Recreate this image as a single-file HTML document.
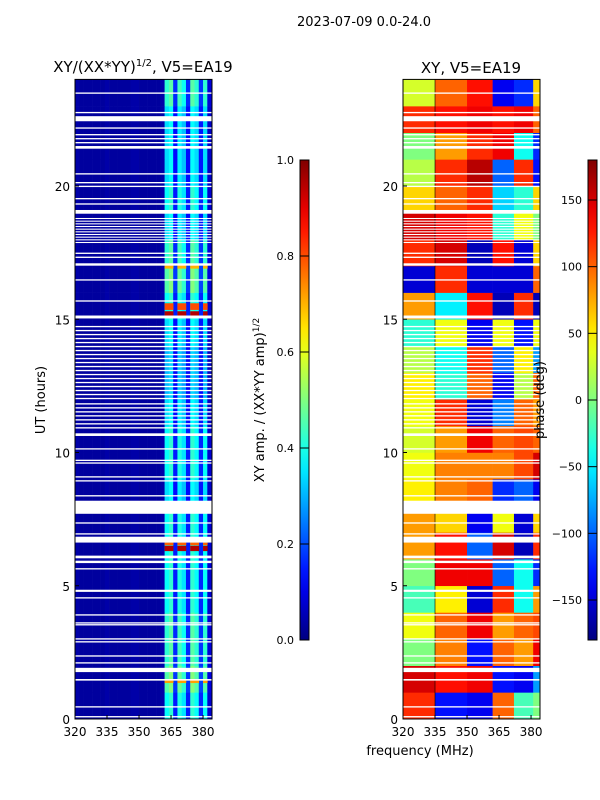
<!DOCTYPE html>
<html><head><meta charset="utf-8">
<style>
html,body{margin:0;padding:0;background:#fff;}
svg{display:block;font-family:"DejaVu Sans","Liberation Sans",sans-serif;}
</style></head>
<body>
<svg id="fig" width="600" height="800" viewBox="0 0 600 800" xmlns="http://www.w3.org/2000/svg">
<rect width="600" height="800" fill="#fff"/>
<text x="364" y="26" font-size="13" text-anchor="middle">2023-07-09 0.0-24.0</text>
<text x="143" y="72" font-size="15" text-anchor="middle">XY/(XX*YY)<tspan font-size="10" dy="-6">1/2</tspan><tspan dy="6">, V5=EA19</tspan></text>
<text x="471" y="73" font-size="15" text-anchor="middle">XY, V5=EA19</text>
<g id="left"></g>
<g id="right"></g>
<g id="axes"></g>
<text x="45" y="400" font-size="13" text-anchor="middle" transform="rotate(-90 45 400)">UT (hours)</text>
<text x="420" y="755" font-size="13" text-anchor="middle">frequency (MHz)</text>
<text x="264" y="400" font-size="13" text-anchor="middle" transform="rotate(-90 264 400)">XY amp. / (XX*YY amp)<tspan font-size="9" dy="-5">1/2</tspan></text>
<text x="544" y="400" font-size="13" text-anchor="middle" transform="rotate(-90 544 400)">phase (deg)</text>
</svg>
<script>
// ---------- data ----------
const freqTicks = [320, 335, 350, 365, 380];
const utTicks = [0, 5, 10, 15, 20];
const ampTicks = [0.0, 0.2, 0.4, 0.6, 0.8, 1.0];
const phaseTicks = [-150, -100, -50, 0, 50, 100, 150];
// amplitude per 2-MHz channel bin (320..384)
const ampFreq = [0.04,0.03,0.03,0.03,0.03,0.03,0.03,0.04,0.03,0.03,0.03,0.03,0.03,0.04,0.04,0.03,0.03,0.03,0.03,0.03,0.04,0.38,0.42,0.15,0.4,0.35,0.15,0.42,0.38,0.16,0.38,0.08];
// per-hour brightness scale, UT 0..23
const ampHour = [1.0,1.2,1.1,1.1,1.0,1.0,1.0,1.0,0.9,1.0,1.0,0.9,0.8,0.8,0.9,1.0,1.2,1.1,0.9,1.0,0.9,0.9,0.9,1.1];
// hot spots [utStart, utEnd, amplitude]
const hotStart = [15.1, 15.35, 6.3, 6.52, 1.35, 16.9];
const hotEnd = [15.3, 15.6, 6.5, 6.62, 1.5, 17.05];
const hotAmp = [0.95, 0.8, 0.95, 0.78, 0.72, 0.7];
// phase (deg) per hour (UT 0..23) x 6 frequency regions
const phaseEdges = [320, 335, 350, 362, 372, 381, 384];
const phaseHour = [
 [120,-130,-140,100,-20,0],
 [150,130,140,-130,-140,-80],
 [0,90,-130,100,80,140],
 [40,100,140,80,100,110],
 [-20,50,-150,120,-40,80],
 [0,140,140,-100,-40,-120],
 [80,130,-100,150,-160,120],
 [80,60,-140,40,-150,60],
 [50,90,100,-120,-100,-140],
 [40,90,90,90,110,150],
 [30,80,140,100,110,100],
 [40,120,-150,-90,100,80],
 [50,-30,100,-140,20,100],
 [20,-40,120,-100,50,-80],
 [-30,40,-140,40,-130,40],
 [80,-50,130,-160,120,-160],
 [-150,120,-150,-150,-150,100],
 [120,150,-160,130,-150,60],
 [150,140,130,-30,40,0],
 [60,100,120,-60,-30,60],
 [20,120,160,-100,120,-130],
 [0,80,120,140,-40,-120],
 [120,130,140,130,140,100],
 [30,100,130,-140,-120,60]
];
// flagged (blank) intervals: start UT, end UT
const flagStart = [0.06,0.43,1.44,1.76,2.08,2.34,2.87,2.98,3.51,3.58,3.88,4.52,4.77,5.61,5.85,6.03,6.62,6.92,7.33,7.7,8.35,8.91,9.06,9.58,9.68,10.11,10.62,10.9,11.05,11.2,11.35,11.5,11.65,11.8,12.0,12.15,12.3,12.45,12.6,12.75,12.9,13.05,13.2,13.35,13.5,13.65,13.8,13.95,14.1,14.25,14.4,14.55,14.7,15.03,15.66,16.45,17.01,17.3,17.45,17.86,17.96,18.06,18.16,18.26,18.36,18.46,18.56,18.66,18.76,18.96,19.3,19.5,19.96,20.1,20.43,21.4,21.6,21.75,21.9,22.15,22.43,22.73,23.46];
const flagEnd = [0.11,0.48,1.5,1.92,2.13,2.39,2.92,3.03,3.56,3.63,3.93,4.57,4.85,5.66,5.94,6.13,6.84,6.97,7.38,8.19,8.4,8.96,9.11,9.63,9.73,10.16,10.72,10.95,11.1,11.25,11.4,11.55,11.7,11.85,12.05,12.2,12.35,12.5,12.65,12.8,12.95,13.1,13.25,13.4,13.55,13.7,13.85,14.0,14.15,14.3,14.45,14.6,14.75,15.14,15.71,16.5,17.1,17.35,17.5,17.9,18.0,18.1,18.2,18.3,18.4,18.5,18.6,18.7,18.8,19.1,19.35,19.55,20.01,20.15,20.48,21.5,21.65,21.8,21.95,22.2,22.62,22.78,23.51];

// ---------- axes ----------
const LX0 = 75, RX0 = 403, PW = 137, Y0 = 719, Y24 = 79.4;
const fx = (f, x0) => x0 + (f - 320) * (PW / (384.2 - 320));
const uy = u => Y0 - u * (Y0 - Y24) / 24;
const CB_T = 160, CB_B = 640;
const ampY = a => CB_B - a * (CB_B - CB_T);
const phY = p => CB_B - (p + 180) / 360 * (CB_B - CB_T);
function jet(v){ v = Math.max(0, Math.min(1, v));
  const c = t => Math.round(255 * Math.max(0, Math.min(1, 1.5 - Math.abs(4 * v - t))));
  return `rgb(${c(3)},${c(2)},${c(1)})`; }
const NS = 'http://www.w3.org/2000/svg';
function mk(parent, tag, attrs){ const e = document.createElementNS(NS, tag);
  for (const k in attrs) e.setAttribute(k, attrs[k]); parent.appendChild(e); return e; }

const L = document.getElementById('left'), R = document.getElementById('right'), A = document.getElementById('axes');
for (let h = 0; h < 24; h++) {
  for (let b = 0; b < ampFreq.length; b++) {
    const x1 = fx(320 + 2 * b, LX0), x2 = fx(322 + 2 * b, LX0);
    const r = mk(L, 'rect', {x: x1, y: uy(h + 1), width: x2 - x1 + 0.3, height: uy(h) - uy(h + 1) + 0.3, fill: jet(Math.min(1, ampFreq[b] * (b > 20 ? ampHour[h] : 1)))});
    
    
  }
}
for (let i = 0; i < hotStart.length; i++) {
  for (let b = 21; b < 31; b++) {
    if (ampFreq[b] < 0.3) continue;
    const x1 = fx(320 + 2 * b, LX0), x2 = fx(322 + 2 * b, LX0);
    const r = mk(L, 'rect', {x: x1, y: uy(hotEnd[i]), width: x2 - x1 + 0.3, height: uy(hotStart[i]) - uy(hotEnd[i]), fill: jet(hotAmp[i])});
    
    
  }
}
for (let h = 0; h < 24; h++) {
  for (let c = 0; c < 6; c++) {
    const x1 = fx(phaseEdges[c], RX0), x2 = fx(phaseEdges[c + 1], RX0);
    const r = mk(R, 'rect', {x: x1, y: uy(h + 1), width: x2 - x1 + 0.3, height: uy(h) - uy(h + 1) + 0.3, fill: jet((phaseHour[h][c] + 180) / 360)});
    
    
  }
}
const vl = mk(R, 'line', {x1: fx(335, RX0), x2: fx(335, RX0), y1: Y24, y2: Y0, stroke: '#000', 'stroke-width': 1, opacity: 0.6});


for (let i = 0; i < flagStart.length; i++) {
  for (const x0 of [LX0, RX0]) {
    const r = mk(A, 'rect', {x: x0, y: uy(flagEnd[i]), width: PW, height: Math.max(1, uy(flagStart[i]) - uy(flagEnd[i])), fill: '#fff'});
    
    
  }
}
for (const x0 of [LX0, RX0]) {
  const f = mk(A, 'rect', {x: x0, y: Y24, width: PW, height: Y0 - Y24, fill: 'none', stroke: '#000', 'stroke-width': 1});
  
  
  for (const t of freqTicks) {
    const x = fx(t, x0);
    mk(A, 'line', {x1: x, x2: x, y1: Y0, y2: Y0 - 4, stroke: '#000'});
    const tx = mk(A, 'text', {x: x, y: Y0 + 17, 'font-size': 12, 'text-anchor': 'middle'});
    tx.textContent = t;
    
    
  }
  for (const t of utTicks) {
    const y = uy(t);
    mk(A, 'line', {x1: x0, x2: x0 + 4, y1: y, y2: y, stroke: '#000'});
    const tx = mk(A, 'text', {x: x0 - 5, y: y + 5, 'font-size': 12, 'text-anchor': 'end'});
    tx.textContent = t;
    
    
  }
}
function colorbar(x, id, ticks, yfn, fmt, name){
  const defs = mk(A, 'defs', {});
  const g = mk(defs, 'linearGradient', {id: id, x1: 0, y1: 1, x2: 0, y2: 0});
  for (let i = 0; i <= 20; i++) mk(g, 'stop', {offset: i / 20, 'stop-color': jet(i / 20)});
  const r = mk(A, 'rect', {x: x, y: CB_T, width: 9, height: CB_B - CB_T, fill: `url(#${id})`, stroke: '#000', 'stroke-width': 1});
  
  
  for (const t of ticks) {
    const y = yfn(t);
    mk(A, 'line', {x1: x, x2: x + 9, y1: y, y2: y, stroke: '#000'});
    const tx = mk(A, 'text', {x: x - 6, y: y + 4, 'font-size': 11, 'text-anchor': 'end'});
    tx.textContent = fmt(t);
    
    
  }
}
colorbar(300, 'gA', ampTicks, ampY, t => t.toFixed(1), 'amp-colorbar');
colorbar(588, 'gP', phaseTicks, phY, t => (t < 0 ? '\u2212' + (-t) : '' + t), 'phase-colorbar');
</script>
</body></html>
